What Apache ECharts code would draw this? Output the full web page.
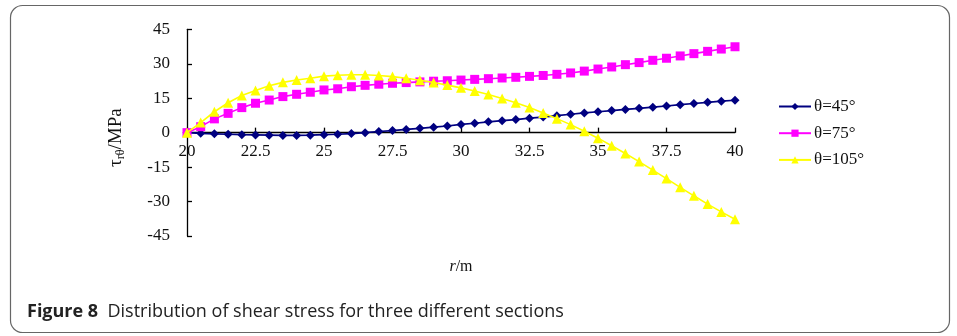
<!DOCTYPE html>
<html>
<head>
<meta charset="utf-8">
<script src="https://cdn.jsdelivr.net/npm/echarts@6/dist/echarts.min.js"></script>
<style>
  html, body { margin: 0; padding: 0; background: #fff; }
  #chart { width: 957px; height: 336px; }
</style>
</head>
<body>
<div id="chart"></div>
<script>
// Radial distance r (m)
const radius = [20, 20.5, 21, 21.5, 22, 22.5, 23, 23.5, 24, 24.5,
                25, 25.5, 26, 26.5, 27, 27.5, 28, 28.5, 29, 29.5,
                30, 30.5, 31, 31.5, 32, 32.5, 33, 33.5, 34, 34.5,
                35, 35.5, 36, 36.5, 37, 37.5, 38, 38.5, 39, 39.5, 40];

// Shear stress τrθ (MPa) for each section
const theta45 = [0, -0.3, -0.5, -0.7, -0.9, -1.0, -1.1, -1.2, -1.2, -1.1,
                 -0.9, -0.7, -0.4, 0.0, 0.5, 0.9, 1.4, 1.9, 2.4, 2.9,
                 3.6, 4.1, 4.7, 5.2, 5.7, 6.3, 6.8, 7.4, 8.0, 8.6,
                 9.1, 9.6, 10.1, 10.6, 11.1, 11.6, 12.2, 12.7, 13.2, 13.7, 14.1];
const theta75 = [0, 2.6, 6.0, 8.4, 10.9, 12.8, 14.2, 15.7, 16.7, 17.6,
                 18.6, 19.1, 20.0, 20.6, 21.1, 21.5, 21.8, 22.1, 22.4, 22.6,
                 22.9, 23.2, 23.5, 23.8, 24.1, 24.5, 24.9, 25.4, 26.0, 26.8,
                 27.7, 28.6, 29.6, 30.5, 31.5, 32.4, 33.4, 34.4, 35.4, 36.4, 37.4];
const theta105 = [0, 4.4, 9.1, 13.0, 16.2, 18.4, 20.4, 21.9, 22.9, 23.7,
                  24.6, 25.0, 25.2, 25.2, 24.9, 24.4, 23.7, 22.8, 21.8, 20.7,
                  19.5, 18.1, 16.6, 14.9, 13.0, 10.9, 8.6, 6.1, 3.5, 0.6,
                  -2.4, -5.7, -9.1, -12.6, -16.3, -20.0, -23.8, -27.5, -31.1, -34.5, -37.7];

const seriesNames = ['θ=45°', 'θ=75°', 'θ=105°'];
const xTicks = [20, 22.5, 25, 27.5, 30, 32.5, 35, 37.5, 40];
const yTicks = [-45, -30, -15, 0, 15, 30, 45];

const pairs = (vals) => radius.map((r, i) => [r, vals[i]]);

const serif = '"Liberation Serif", "Times New Roman", serif';
const sans = '"Open Sans", "Noto Sans", sans-serif';

// Plot area; the r axis sits on τ = 0, halfway down the symmetric τ range
const gridTop = 29.3;
const gridBottom = 100;
const plotHeight = 336 - gridTop - gridBottom;

const chart = echarts.init(document.getElementById('chart'), null, { renderer: 'canvas' });

chart.setOption({
  animation: false,
  backgroundColor: '#ffffff',
  textStyle: { fontFamily: serif },
  grid: { left: 187, right: 222, top: gridTop, bottom: gridBottom, containLabel: false, outerBoundsMode: 'none' },
  xAxis: {
    type: 'value',
    min: xTicks[0],
    max: xTicks[xTicks.length - 1],
    interval: 2.5,
    offset: -plotHeight / 2,
    axisLine: { onZero: false, lineStyle: { color: '#000', width: 1.3 } },
    axisTick: { inside: true, length: 5, lineStyle: { color: '#000', width: 1.3 } },
    axisLabel: { color: '#111', fontSize: 17, fontFamily: serif, margin: 10 },
    splitLine: { show: false },
    name: '{i|r}{n|/m}',
    nameLocation: 'middle',
    nameGap: 126,
    nameTextStyle: {
      rich: {
        i: { fontStyle: 'italic', fontSize: 16, fontFamily: serif, color: '#111' },
        n: { fontSize: 16, fontFamily: serif, color: '#111' }
      }
    }
  },
  yAxis: {
    type: 'value',
    min: yTicks[0],
    max: yTicks[yTicks.length - 1],
    interval: 15,
    axisLine: { show: true, onZero: false, lineStyle: { color: '#000', width: 1.3 } },
    axisTick: { show: true, inside: true, length: 5, lineStyle: { color: '#000', width: 1.3 } },
    axisLabel: { color: '#111', fontSize: 17, fontFamily: serif, margin: 17 },
    splitLine: { show: false },
    name: '{t|τ}{s|rθ}{t|/MPa}',
    nameLocation: 'middle',
    nameRotate: 90,
    nameGap: 60,
    nameTextStyle: {
      padding: [0, 10, 0, 0],
      rich: {
        t: { fontSize: 19, fontFamily: serif, color: '#111' },
        s: { fontSize: 12, fontFamily: serif, color: '#111', padding: [9, 0, 0, 0] }
      }
    }
  },
  legend: {
    orient: 'vertical',
    left: 773,
    top: 93,
    itemGap: 9.7,
    itemWidth: 32,
    itemHeight: 9,
    textStyle: { fontSize: 17, fontFamily: serif, color: '#111', padding: [0, 0, 0, -2] },
    data: seriesNames
  },
  series: [
    {
      name: seriesNames[0],
      type: 'line',
      data: pairs(theta45),
      symbol: 'diamond',
      symbolSize: 9,
      lineStyle: { color: '#000080', width: 1.7 },
      itemStyle: { color: '#000080' },
      z: 2
    },
    {
      name: seriesNames[1],
      type: 'line',
      data: pairs(theta75),
      symbol: 'rect',
      symbolSize: 9,
      lineStyle: { color: '#ff00ff', width: 1.6 },
      itemStyle: { color: '#ff00ff' },
      z: 3
    },
    {
      name: seriesNames[2],
      type: 'line',
      data: pairs(theta105),
      symbol: 'triangle',
      symbolSize: 10,
      lineStyle: { color: '#ffff00', width: 1.6 },
      itemStyle: { color: '#ffff00' },
      z: 4
    }
  ],
  graphic: [
    {
      type: 'rect',
      shape: { x: 10.5, y: 5.5, width: 939, height: 327, r: 12 },
      style: { fill: 'none', stroke: '#666', lineWidth: 1.2 },
      silent: true
    },
    {
      type: 'text',
      left: 27,
      top: 303,
      style: {
        text: '{b|Figure 8}{r|  Distribution of shear stress for three different sections}',
        rich: {
          b: { fontFamily: sans, fontWeight: 'bold', fontSize: 18, fill: '#222' },
          r: { fontFamily: sans, fontSize: 18, fill: '#222' }
        }
      },
      silent: true
    }
  ]
});
</script>
</body>
</html>
